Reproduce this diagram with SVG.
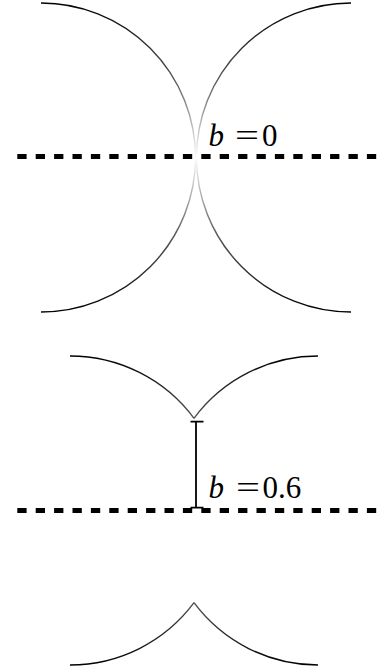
<svg xmlns="http://www.w3.org/2000/svg" width="377" height="672" viewBox="0 0 377 672">
<style>
.arc{fill:none;stroke-width:1.4}
.axis{fill:none;stroke:#000;stroke-width:5;stroke-dasharray:9.3 9.1}
.bar{fill:none;stroke:#000;stroke-width:1.8}
.lbl{font-family:"Liberation Serif","Times New Roman",serif;font-size:31px;fill:#000}
.it{font-style:italic}
</style>
<defs>
<linearGradient id="gTop" gradientUnits="userSpaceOnUse" x1="0" y1="3" x2="0" y2="312">
<stop offset="0" stop-color="#000" stop-opacity="1"/>
<stop offset="0.25" stop-color="#000" stop-opacity="0.65"/>
<stop offset="0.5" stop-color="#000" stop-opacity="0"/>
<stop offset="0.75" stop-color="#000" stop-opacity="0.65"/>
<stop offset="1" stop-color="#000" stop-opacity="1"/>
</linearGradient>
<linearGradient id="gBot" gradientUnits="userSpaceOnUse" x1="0" y1="356" x2="0" y2="665">
<stop offset="0" stop-color="#000" stop-opacity="1"/>
<stop offset="0.25" stop-color="#000" stop-opacity="0.6"/>
<stop offset="0.5" stop-color="#000" stop-opacity="0"/>
<stop offset="0.75" stop-color="#000" stop-opacity="0.6"/>
<stop offset="1" stop-color="#000" stop-opacity="1"/>
</linearGradient>
</defs>
<g id="top-left-circle"><path class="arc" stroke="url(#gTop)" d="M41,3 A154.5,154.5 0 0 1 41,312"/></g>
<g id="top-right-circle"><path class="arc" stroke="url(#gTop)" d="M351,3 A154.5,154.5 0 0 0 351,312"/></g>
<g id="bottom-left-circle">
<path class="arc" stroke="url(#gBot)" d="M70,356 A154.5,154.5 0 0 1 194,418.3"/>
<path class="arc" stroke="url(#gBot)" d="M70,665 A154.5,154.5 0 0 0 194,602.7"/>
</g>
<g id="bottom-right-circle">
<path class="arc" stroke="url(#gBot)" d="M318,356 A154.5,154.5 0 0 0 194,418.3"/>
<path class="arc" stroke="url(#gBot)" d="M318,665 A154.5,154.5 0 0 1 194,602.7"/>
</g>
<g id="connectors">
<line class="axis" x1="17.3" y1="156.5" x2="377" y2="156.5"/>
<line class="axis" x1="17.3" y1="510.5" x2="377" y2="510.5"/>
<path class="bar" d="M196,421.7 V507.7 M190.5,421.7 H203.5 M190.5,507.7 H203.5"/>
</g>
<g id="label-b0">
<text class="lbl it" x="208.5" y="146">b</text>
<text class="lbl" x="235" y="146" textLength="24" lengthAdjust="spacingAndGlyphs">=</text>
<text class="lbl" x="262" y="146">0</text>
</g>
<g id="label-b06">
<text class="lbl it" x="208.5" y="497.5">b</text>
<text class="lbl" x="236" y="497.5" textLength="24" lengthAdjust="spacingAndGlyphs">=</text>
<text class="lbl" x="262.5" y="497.5">0.6</text>
</g>
</svg>
